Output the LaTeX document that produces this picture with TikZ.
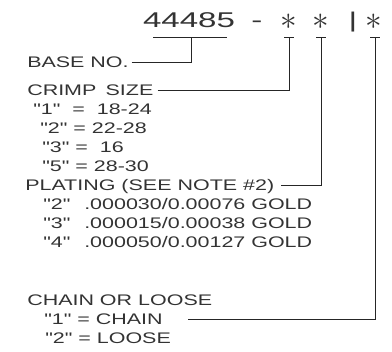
\documentclass[tikz,border=0pt]{standalone}
\usepackage{fontspec}
\setmainfont[FakeStretch=1.4,Ligatures=TeXOff]{Liberation Sans}
\newfontfamily\bigcad[FakeStretch=1.55]{Liberation Sans}
\usetikzlibrary{positioning}
\tikzset{
  lbl/.style={anchor=west,inner sep=0pt,text height=8.2pt,text depth=0pt,
    text=black!80,font=\fontsize{11.5}{13}\selectfont},
  partno/.style={anchor=base,inner sep=0pt,text=black!80,
    font=\bigcad\fontsize{16}{18}\selectfont},
  starmark/.style={inner sep=0pt,text=black!80,font=\fontsize{23}{25}\selectfont},
  lead/.style={draw=black!85,line width=0.6pt},
}

\begin{document}
\begin{tikzpicture}[x=0.75pt,y=-0.75pt]
  \useasboundingbox (0,0) rectangle (392,352);
  % part number
  \node[partno] (base) at (189,28) {44485};
  \node[partno] (dash) at (257,28) {-};
  \node[starmark] (star1) at (289,22) {$\ast$};
  \node[starmark] (star2) at (321,22) {$\ast$};
  \node[partno] (bar) at (353,28) {|};
  \node[starmark] (star3) at (374,22) {$\ast$};
  \coordinate (t0) at (191,37);
  \coordinate (t1) at (289,37);
  \coordinate (t2) at (321,37);
  \coordinate (t3) at (375,37);
  % headings
  \node[lbl] (basenum) at (27,62) {BASE NO.};
  \node[lbl] (crimp) at (27,90) {CRIMP\hspace{0.6em}SIZE};
  \node[lbl] (plating) at (25,185) {PLATING (SEE NOTE \#2)};
  \node[lbl] (chain) at (27,300) {CHAIN OR LOOSE};
  % choices
  \foreach \n/\x/\y/\t in {1/33/109/{"1" \ = \ 18-24},2/40/128/{"2" = 22-28},
      3/42/147/{"3" = \ 16},5/42/166/{"5" = 28-30}}
    \node[lbl] (crimp\n) at (\x,\y) {\t};
  \foreach \n/\y/\t in {2/204/{.000030/0.00076 GOLD},3/223/{.000015/0.00038 GOLD},
      4/242/{.000050/0.00127 GOLD}}
  {
    \node[lbl] (plate\n) at (43,\y) {"\n"};
    \node[lbl] (platev\n) at (84,\y) {\t};
  }
  \node[lbl] (chain1) at (44,319) {"1" = CHAIN};
  \node[lbl] (chain2) at (45,338) {"2" = LOOSE};
  \coordinate (chainend) at (188,319);
  % leaders
  \draw[lead] ([xshift=-28.5pt]t0) -- ([xshift=27pt]t0);
  \foreach \t in {t1,t2,t3}
    \draw[lead] ([xshift=-3.75pt]\t) -- ([xshift=3.75pt]\t);
  \draw[lead] ([xshift=2pt]basenum.east) -| (t0);
  \draw[lead] ([xshift=3pt]crimp.east) -| (t1);
  \draw[lead] ([xshift=5pt]plating.east) -| (t2);
  \draw[lead] (chainend) -| (t3);
\end{tikzpicture}
\end{document}
